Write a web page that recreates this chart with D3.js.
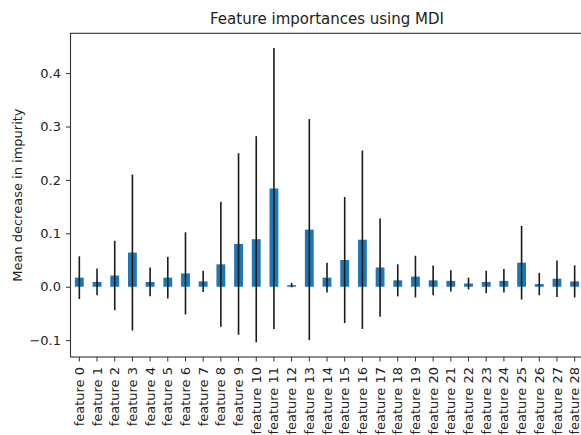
<!DOCTYPE html>
<html>
<head>
<meta charset="utf-8">
<script src="https://cdn.jsdelivr.net/npm/d3@7"></script>
<style>
  body { margin: 0; background: #fff; overflow: hidden; }
  svg { font-family: "DejaVu Sans", sans-serif; }
</style>
</head>
<body>
<div id="chart"></div>
<script>
// --- Data ---
const features = [
    "feature 0", "feature 1", "feature 2", "feature 3", "feature 4", "feature 5",
    "feature 6", "feature 7", "feature 8", "feature 9", "feature 10", "feature 11",
    "feature 12", "feature 13", "feature 14", "feature 15", "feature 16", "feature 17",
    "feature 18", "feature 19", "feature 20", "feature 21", "feature 22", "feature 23",
    "feature 24", "feature 25", "feature 26", "feature 27", "feature 28"
];
const importances = [0.017, 0.009, 0.021, 0.064, 0.009, 0.017, 0.025, 0.010, 0.042, 0.080,
    0.089, 0.184, 0.003, 0.107, 0.017, 0.050, 0.088, 0.036, 0.012, 0.019,
    0.012, 0.011, 0.006, 0.009, 0.011, 0.045, 0.005, 0.015, 0.010];
const stdDev = [0.040, 0.025, 0.065, 0.146, 0.027, 0.039, 0.077, 0.020, 0.117, 0.170,
    0.193, 0.263, 0.004, 0.207, 0.028, 0.118, 0.167, 0.092, 0.030, 0.039,
    0.028, 0.020, 0.011, 0.021, 0.022, 0.069, 0.021, 0.034, 0.030];
const yTicks = [-0.1, 0.0, 0.1, 0.2, 0.3, 0.4];

// --- Rendering ---
const width = 581, height = 435;
const margin = { top: 33.3, right: -2.5, bottom: 78, left: 70.5 };

const svg = d3.select("#chart")
    .append("svg")
    .attr("width", width)
    .attr("height", height);

const x = d3.scaleBand()
    .domain(features)
    .range([margin.left, width - margin.right])
    .padding(0);

// matplotlib style autoscale: 5% margin around error bar extent
const lo = d3.min(importances, (d, i) => d - stdDev[i]);
const hi = d3.max(importances, (d, i) => d + stdDev[i]);
const pad = (hi - lo) * 0.05;
const y = d3.scaleLinear()
    .domain([lo - pad, hi + pad])
    .range([height - margin.bottom, margin.top]);

const barW = x.bandwidth() * 0.5;

// bars
svg.append("g")
    .selectAll("rect")
    .data(features)
    .join("rect")
    .attr("x", d => x(d) + x.bandwidth() / 2 - barW / 2)
    .attr("width", barW)
    .attr("y", (d, i) => y(Math.max(0, importances[i])))
    .attr("height", (d, i) => Math.abs(y(importances[i]) - y(0)))
    .attr("fill", "#1f77b4");

// error bars
svg.append("g")
    .selectAll("line")
    .data(features)
    .join("line")
    .attr("x1", d => x(d) + x.bandwidth() / 2)
    .attr("x2", d => x(d) + x.bandwidth() / 2)
    .attr("y1", (d, i) => y(importances[i] - stdDev[i]))
    .attr("y2", (d, i) => y(importances[i] + stdDev[i]))
    .attr("stroke", "#1b1b1b")
    .attr("stroke-width", 1.6);

// frame
svg.append("rect")
    .attr("x", margin.left)
    .attr("y", margin.top)
    .attr("width", width - margin.right - margin.left)
    .attr("height", height - margin.bottom - margin.top)
    .attr("fill", "none")
    .attr("stroke", "#333")
    .attr("stroke-width", 1.1);

// y axis
const yAxis = svg.append("g")
    .attr("transform", `translate(${margin.left},0)`)
    .call(d3.axisLeft(y).tickValues(yTicks).tickFormat(d3.format(".1f")).tickSize(4.5).tickPadding(5));
yAxis.select(".domain").remove();
yAxis.selectAll("line").attr("stroke", "#333");
yAxis.selectAll("text").attr("fill", "#222").style("font-size", "13px").style("font-family", "DejaVu Sans");

// x axis
const xAxis = svg.append("g")
    .attr("transform", `translate(0,${height - margin.bottom})`)
    .call(d3.axisBottom(x).tickSize(4.5).tickPadding(5));
xAxis.select(".domain").remove();
xAxis.selectAll("line").attr("stroke", "#333");
xAxis.selectAll("text")
    .attr("fill", "#222")
    .style("font-size", "13px")
    .style("font-family", "DejaVu Sans")
    .attr("transform", "rotate(-90)")
    .attr("x", -10)
    .attr("y", 0)
    .attr("dy", "0.35em")
    .style("text-anchor", "end");

// y label
svg.append("text")
    .attr("transform", `translate(22,${(margin.top + height - margin.bottom) / 2}) rotate(-90)`)
    .attr("text-anchor", "middle")
    .attr("fill", "#222")
    .style("font-size", "13px")
    .text("Mean decrease in impurity");

// title
svg.append("text")
    .attr("x", (margin.left + width - margin.right) / 2)
    .attr("y", 24)
    .attr("text-anchor", "middle")
    .attr("fill", "#222")
    .style("font-size", "15px")
    .text("Feature importances using MDI");
</script>
</body>
</html>
